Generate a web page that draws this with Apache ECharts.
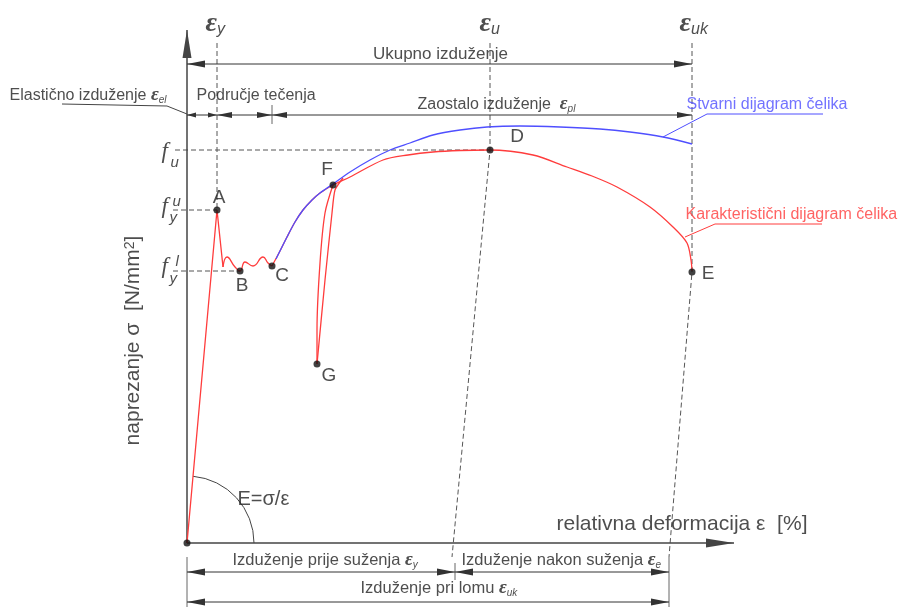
<!DOCTYPE html>
<html><head><meta charset="utf-8">
<script src="https://cdn.jsdelivr.net/npm/echarts@6/dist/echarts.min.js"></script>
<style>html,body{margin:0;padding:0;background:#fff}#c{width:901px;height:610px}</style>
</head><body><div id="c"></div>
<script>
// ================= DATA (strain ε in %, stress σ in N/mm²) =================
const epsMarkNames = ['y', 'u', 'uk'];
const epsMarks = [1.2, 12.12, 20.2];          // εy, εu, εuk
const stressMarks = [393, 333, 272];          // fu, fy^u, fy^l

// characteristic (red) diagram
const elasticEps = [0, 1.2, 1.44];
const elasticSig = [0, 333, 276];
const yieldEps = [1.44, 1.6, 1.92, 2.12, 2.32, 2.64, 3.04, 3.24, 3.4];
const yieldSig = [276, 286, 276, 272, 281, 277, 286, 280, 277];
const charEps = [3.4, 3.72, 4.0, 4.32, 4.64, 5.0, 5.32, 5.84, 6.52, 7.84, 8.84, 9.84, 10.92, 12.08, 13.84, 15.2, 16.2, 17.2, 18.52, 19.44, 20.0, 20.16, 20.2];
const charSig = [277, 292, 306, 321, 333, 343, 350, 358, 366, 383, 388, 391, 392.5, 393, 388, 376, 367, 356, 336, 316, 300, 283, 272];
const unloadEps = [6.24, 5.92, 5.8, 5.52, 5.2];
const unloadSig = [365, 353, 330, 263, 179];
const reloadEps = [5.2, 5.2, 5.32, 5.52, 5.84];
const reloadSig = [179, 213, 280, 330, 358];
// real (blue) diagram
const realEps = [3.56, 4.0, 4.32, 4.64, 5.0, 5.32, 5.84, 6.52, 7.32, 8.12, 8.92, 9.84, 10.92, 12.0, 13.32, 14.92, 16.52, 17.72, 19.04, 20.2];
const realSig = [284, 306, 321, 333, 343, 350, 359, 371, 383, 393, 400, 408, 413, 416, 417, 416, 414, 411, 406, 399];

// characteristic points
const pointNames = ['A', 'B', 'C', 'D', 'E', 'F', 'G'];
const pointEps = [1.2, 2.12, 3.4, 12.12, 20.2, 5.84, 5.2];
const pointSig = [333, 272, 277, 393, 271, 358, 179];

// ================= LAYOUT (annotation placement in chart coordinates) =================
const X_RANGE = [-7.48, 28.56], Y_RANGE = [-67, 543];
const guideTop = 500, slantEndSig = -14;
const slantEndEps = [10.6, 19.28];            // dashed εu / εuk guides reach the bottom dimension lines
const fGuideStart = [-0.48, -0.56, -0.56];
const axisEnd = { x: 21.88, y: 513 };
// dimension lines: [from, to] at level y, arrowheads at both ends
const dims = [
  { y: 479, segs: [[0, 20.2]], head: [7, 18] },
  { y: 428, segs: [[0, 1.2]], head: [5, 9] },
  { y: 428, segs: [[1.2, 3.4], [3.4, 20.2]], head: [6, 15] },
  { y: -29, segs: [[0, 10.72], [10.72, 19.28]], head: [7, 18] },
  { y: -59, segs: [[0, 19.28]], head: [7, 18] }
];
const ticks = [[3.4, 438, 419], [0, -14, -64], [10.72, -20, -37], [19.28, -14, -64]];
const leaders = [
  { eps: [-5.0, -0.8, 0], sig: [439, 437, 429], c: 'ink' },
  { eps: [25.44, 20.8, 19.04], sig: [429, 429, 406], c: 'blue' },
  { eps: [25.4, 21.12, 19.92], sig: [319, 319, 306], c: 'red' }
];
const arcRadiusEps = 2.68;
const pointLabelOffset = [[2, -12], [2, 15], [10, 10], [27, -13], [16, 2], [-6, -15], [12, 12]];
const texts = [
  { t: 'Ukupno izduženje', x: 10.16, y: 488, k: 'mid' },
  { t: 'Elastično izduženje {e|ε}{s|el}', x: -7.08, y: 447, k: 'left' },
  { t: 'Područje tečenja', x: 0.4, y: 447, k: 'left' },
  { t: 'Zaostalo izduženje  {e|ε}{s|pl}', x: 9.24, y: 438, k: 'left' },
  { t: 'Stvarni dijagram čelika', x: 20.0, y: 438, k: 'blue' },
  { t: 'Karakteristični dijagram čelika', x: 19.96, y: 328, k: 'red' },
  { t: '{E|ε}{S|' + epsMarkNames[0] + '}', x: 0.76, y: 519, k: 'eps' },
  { t: '{E|ε}{S|' + epsMarkNames[1] + '}', x: 11.72, y: 519, k: 'eps' },
  { t: '{E|ε}{S|' + epsMarkNames[2] + '}', x: 19.72, y: 519, k: 'eps' },
  { t: 'naprezanje σ  [N/mm{sup|2}]', x: -2.12, y: 202, k: 'yname' },
  { t: 'relativna deformacija ε  [%]', x: 14.8, y: 18, k: 'xname' },
  { t: 'E=σ/ε', x: 2.04, y: 43, k: 'modulus' },
  { t: 'Izduženje prije suženja {e|ε}{s|y}', x: 1.84, y: -18, k: 'small' },
  { t: 'Izduženje nakon suženja {e|ε}{s|e}', x: 11.0, y: -18, k: 'small' },
  { t: 'Izduženje pri lomu {e|ε}{s|uk}', x: 6.96, y: -46, k: 'small' },
  { t: 'f', x: -1.0, y: 391, k: 'f' }, { t: 'u', x: -0.64, y: 380, k: 'fs' },
  { t: 'f', x: -1.0, y: 336, k: 'f' }, { t: 'u', x: -0.56, y: 341, k: 'fs' }, { t: 'y', x: -0.68, y: 325, k: 'fs' },
  { t: 'f', x: -1.0, y: 276, k: 'f' }, { t: 'l', x: -0.44, y: 281, k: 'fs' }, { t: 'y', x: -0.68, y: 264, k: 'fs' }
];

// ================= STYLE =================
const SANS = "'Liberation Sans', Arial, sans-serif";
const SERIF = "'Liberation Serif', 'Times New Roman', serif";
const INK = '#222', RED = '#ff3c3c', BLUE = '#4f4fff', GUIDE = '#555';
const colorOf = { ink: '#444', blue: BLUE, red: RED };
const rich = {
  e: { fontFamily: SERIF, fontStyle: 'italic', fontWeight: 'bold', fontSize: 19, lineHeight: 20, color: INK },
  s: { fontFamily: SANS, fontStyle: 'italic', fontSize: 10, lineHeight: 10, verticalAlign: 'bottom', color: INK },
  E: { fontFamily: SERIF, fontStyle: 'italic', fontWeight: 'bold', fontSize: 28, lineHeight: 28, color: INK },
  S: { fontFamily: SANS, fontStyle: 'italic', fontSize: 16, lineHeight: 16, verticalAlign: 'bottom', color: INK },
  sup: { fontFamily: SANS, fontSize: 14, lineHeight: 14, verticalAlign: 'top', color: INK }
};
const textKinds = {
  mid: { align: 'center', fontSize: 17 },
  left: { align: 'left', fontSize: 16 },
  blue: { align: 'left', fontSize: 16, color: BLUE },
  red: { align: 'left', fontSize: 16, color: RED },
  eps: { align: 'left', fontSize: 16 },
  yname: { align: 'center', fontSize: 21, rotate: 90 },
  xname: { align: 'left', fontSize: 21 },
  modulus: { align: 'left', fontSize: 20 },
  small: { align: 'left', fontSize: 16.5 },
  f: { align: 'left', fontSize: 23, fontFamily: SERIF, fontStyle: 'italic' },
  fs: { align: 'left', fontSize: 15, fontStyle: 'italic' }
};

// ================= BUILD =================
const pairs = (xs, ys) => xs.map((x, i) => [x, ys[i]]);
const base = { silent: true, animation: false, showSymbol: false, symbol: 'none' };
function curve(xs, ys, color, smooth, z) {
  return Object.assign({ type: 'line', data: pairs(xs, ys), smooth, z, lineStyle: { color, width: 1.3 } }, base);
}
function dashed(xs, ys) {
  return Object.assign({ type: 'line', data: pairs(xs, ys), z: 1, lineStyle: { color: GUIDE, width: 1, type: [5, 3] } }, base);
}
function solid(xs, ys, color, width) {
  return Object.assign({ type: 'line', data: pairs(xs, ys), z: 2, lineStyle: { color, width } }, base);
}
// arrow segments drawn through the chart's scales: value = [x1, y1, x2, y2]
function arrows(items, head, ends, color, width) {
  return {
    type: 'custom', silent: true, animation: false, z: 3, data: items,
    renderItem: (params, api) => {
      const p1 = api.coord([api.value(0), api.value(1)]);
      const p2 = api.coord([api.value(2), api.value(3)]);
      const dx = p2[0] - p1[0], dy = p2[1] - p1[1], len = Math.hypot(dx, dy) || 1;
      const ux = dx / len, uy = dy / len, nx = -uy, ny = ux;
      const W = head[0] / 2, L = head[1];
      const children = [{ type: 'line', shape: { x1: p1[0], y1: p1[1], x2: p2[0], y2: p2[1] }, style: { stroke: color, lineWidth: width } }];
      const tri = (p, s) => ({
        type: 'polygon',
        shape: { points: [[p[0], p[1]], [p[0] + s * ux * L + nx * W, p[1] + s * uy * L + ny * W], [p[0] + s * ux * L - nx * W, p[1] + s * uy * L - ny * W]] },
        style: { fill: color }
      });
      if (ends[0]) children.push(tri(p1, 1));
      if (ends[1]) children.push(tri(p2, -1));
      return { type: 'group', children };
    }
  };
}

const series = [];
// guides
series.push(dashed([epsMarks[0], epsMarks[0]], [guideTop, pointSig[0]]));
series.push(dashed([epsMarks[1], epsMarks[1], slantEndEps[0]], [guideTop, stressMarks[0], slantEndSig]));
series.push(dashed([epsMarks[2], epsMarks[2], slantEndEps[1]], [guideTop, pointSig[4], slantEndSig]));
series.push(dashed([fGuideStart[0], epsMarks[1]], [stressMarks[0], stressMarks[0]]));
series.push(dashed([fGuideStart[1], epsMarks[0]], [stressMarks[1], stressMarks[1]]));
series.push(dashed([fGuideStart[2], pointEps[1]], [stressMarks[2], stressMarks[2]]));
// axes
series.push(arrows([[0, 0, 0, axisEnd.y], [0, 0, axisEnd.x, 0]], [9, 28], [false, true], '#444', 1.5));
// dimension lines
dims.forEach(d => series.push(arrows(d.segs.map(s => [s[0], d.y, s[1], d.y]), d.head, [true, true], '#333', 1)));
ticks.forEach(t => series.push(solid([t[0], t[0]], [t[1], t[2]], '#666', 1)));
leaders.forEach(l => series.push(solid(l.eps, l.sig, colorOf[l.c], 1)));
// curves
series.push(curve(elasticEps, elasticSig, RED, false, 5));
series.push(curve(yieldEps, yieldSig, RED, 0.5, 5));
series.push(curve(charEps, charSig, RED, 0.3, 5));
series.push(curve(unloadEps, unloadSig, RED, 0.2, 5));
series.push(curve(reloadEps, reloadSig, RED, 0.3, 5));
series.push(curve(realEps, realSig, BLUE, 0.3, 6));
// modulus arc
series.push({
  type: 'custom', silent: true, animation: false, z: 4, data: [[0, 0]],
  renderItem: (params, api) => {
    const o = api.coord([0, 0]);
    const r = api.coord([arcRadiusEps, 0])[0] - o[0];
    const a = api.coord([pointEps[0], pointSig[0]]);
    return {
      type: 'arc',
      shape: { cx: o[0], cy: o[1], r, startAngle: Math.atan2(a[1] - o[1], a[0] - o[0]), endAngle: 0, clockwise: true },
      style: { stroke: '#444', fill: null, lineWidth: 1 }
    };
  }
});
// points
series.push({
  type: 'scatter', silent: true, animation: false, z: 10, symbolSize: 7,
  itemStyle: { color: '#111' },
  data: pointNames.map((n, i) => ({
    name: n, value: [pointEps[i], pointSig[i]],
    label: { show: true, formatter: n, position: 'inside', offset: pointLabelOffset[i], fontFamily: SANS, fontSize: 19, color: INK }
  })).concat([{ name: 'O', value: [0, 0], label: { show: false } }])
});
// texts
series.push({
  type: 'scatter', silent: true, animation: false, z: 11, symbolSize: 1,
  itemStyle: { color: 'rgba(0,0,0,0)' },
  data: texts.map(tx => {
    const k = textKinds[tx.k];
    return {
      value: [tx.x, tx.y],
      label: {
        show: true, formatter: tx.t, position: [0, 0], align: k.align, verticalAlign: 'middle',
        rotate: k.rotate || 0, fontFamily: k.fontFamily || SANS, fontStyle: k.fontStyle || 'normal',
        fontSize: k.fontSize, color: k.color || INK, rich
      }
    };
  })
});

const chart = echarts.init(document.getElementById('c'));
chart.setOption({
  animation: false,
  grid: { left: 0, right: 0, top: 0, bottom: 0 },
  xAxis: { type: 'value', min: X_RANGE[0], max: X_RANGE[1], show: false },
  yAxis: { type: 'value', min: Y_RANGE[0], max: Y_RANGE[1], show: false },
  series
});
</script></body></html>
